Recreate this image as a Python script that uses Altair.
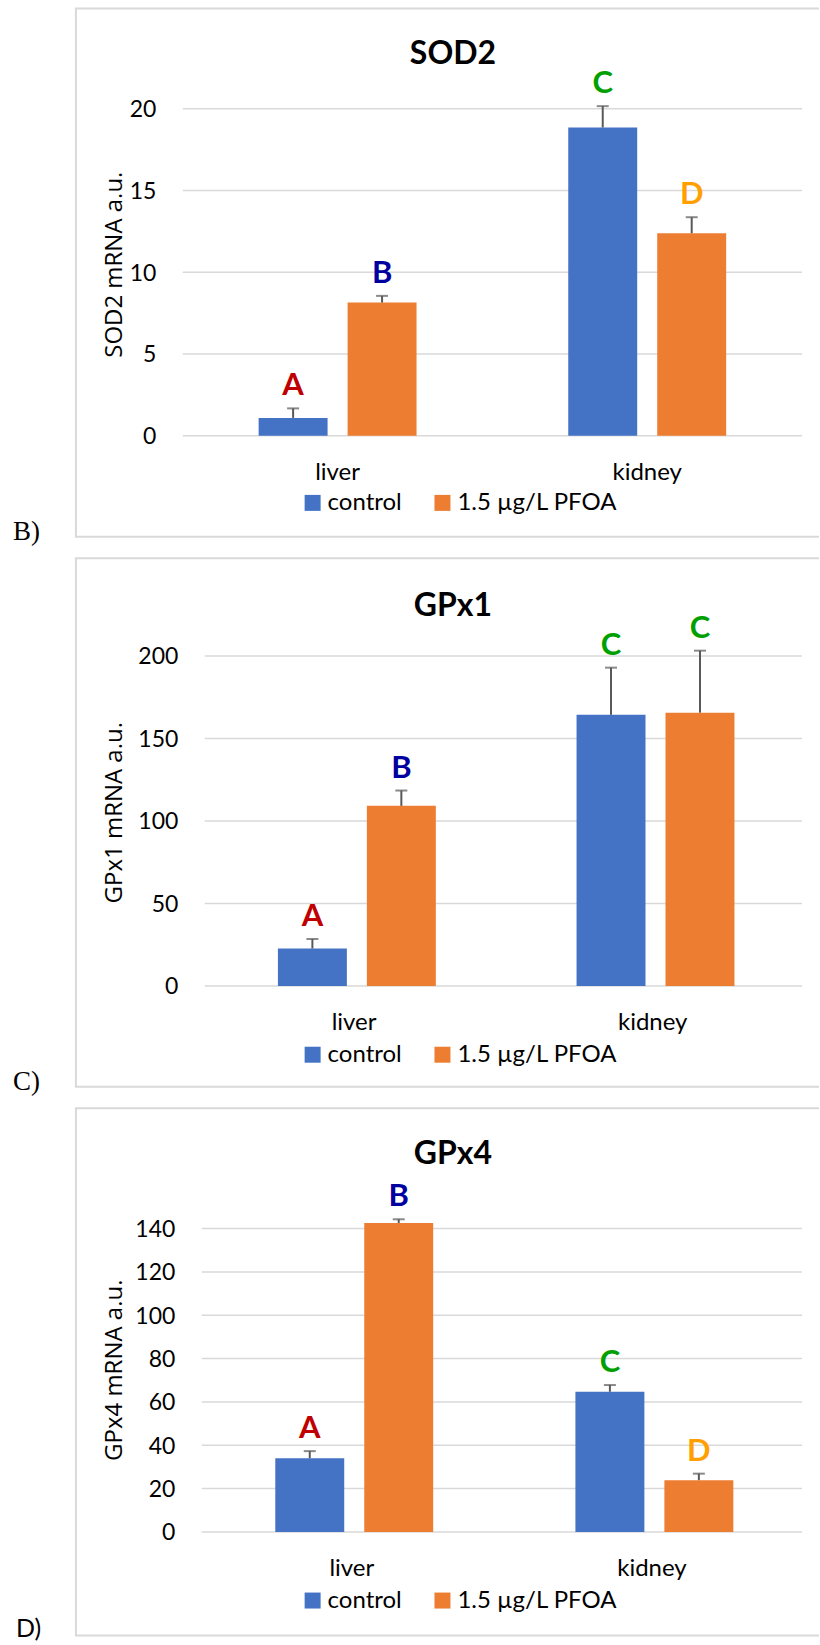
import altair as alt
import pandas as pd

organs = ["liver", "kidney"]
groups = ["control", "1.5 µg/L PFOA"]
group_colors = ["#4472C4", "#ED7D31"]

letter_names = ["A", "B", "C", "D"]
letter_colors = ["#C00000", "#0000A0", "#00A000", "#FFA000"]

# SOD2
sod2_control = [1.10, 18.85]
sod2_control_se = [0.58, 1.31]
sod2_pfoa = [8.15, 12.39]
sod2_pfoa_se = [0.41, 0.98]
sod2_letters_control = ["A", "C"]
sod2_letters_pfoa = ["B", "D"]
sod2_ticks = [0, 5, 10, 15, 20]

# GPx1
gpx1_control = [22.7, 164.4]
gpx1_control_se = [5.8, 28.6]
gpx1_pfoa = [109.2, 165.7]
gpx1_pfoa_se = [9.3, 37.6]
gpx1_letters_control = ["A", "C"]
gpx1_letters_pfoa = ["B", "C"]
gpx1_ticks = [0, 50, 100, 150, 200]

# GPx4
gpx4_control = [34.0, 64.7]
gpx4_control_se = [3.3, 3.1]
gpx4_pfoa = [142.6, 23.9]
gpx4_pfoa_se = [1.7, 3.0]
gpx4_letters_control = ["A", "C"]
gpx4_letters_pfoa = ["B", "D"]
gpx4_ticks = [0, 20, 40, 60, 80, 100, 120, 140]

W = 744
GRID = "#D9D9D9"
ERR = "#595959"


def panel(title, ytitle, plabel, plabel_font, plabel_size, plabel_x,
          ctrl, ctrl_se, pfoa, pfoa_se, lc, lp, ticks, g):
    H = g["H"]
    pl, pr, pt, pb = g["pl"], g["pr"], g["pt"], g["pb"]
    rows = []
    for i, o in enumerate(organs):
        rows.append(dict(organ=o, group=groups[0], value=ctrl[i],
                         err=ctrl[i] + ctrl_se[i], letter=lc[i]))
        rows.append(dict(organ=o, group=groups[1], value=pfoa[i],
                         err=pfoa[i] + pfoa_se[i], letter=lp[i]))
    df = pd.DataFrame(rows)
    tick_df = pd.DataFrame({"tick": ticks})
    org_df = pd.DataFrame({"organ": organs})
    dummy = pd.DataFrame({"d": [0]})

    yscale = alt.Scale(domain=[0, ticks[-1]], range=[pb, pt], nice=False, zero=True)
    xscale = alt.Scale(domain=organs, range=[pl, pr], paddingInner=0.49, paddingOuter=0.245)
    oscale = alt.Scale(domain=groups, paddingInner=0.225, paddingOuter=0)
    X = alt.X("organ:N", scale=xscale, axis=None, sort=organs)
    XO = alt.XOffset("group:N", scale=oscale, sort=groups)

    def Y(f):
        return alt.Y(f, scale=yscale, axis=None)

    frame_top = alt.Chart(dummy).mark_rule(color=GRID, strokeWidth=2).encode(
        x=alt.value(-1), x2=alt.value(W), y=alt.value(0))
    frame_left = alt.Chart(dummy).mark_rule(color=GRID, strokeWidth=2).encode(
        x=alt.value(0), y=alt.value(0), y2=alt.value(H))
    frame_bottom = alt.Chart(dummy).mark_rule(color=GRID, strokeWidth=2).encode(
        x=alt.value(-1), x2=alt.value(W), y=alt.value(H))

    grid = alt.Chart(tick_df).mark_rule(color=GRID, strokeWidth=1.5).encode(
        y=Y("tick:Q"), x=alt.value(pl), x2=alt.value(pr))

    bars = alt.Chart(df).mark_bar().encode(
        x=X, xOffset=XO, y=Y("value:Q"),
        color=alt.Color("group:N", scale=alt.Scale(domain=groups, range=group_colors),
                        sort=groups,
                        legend=alt.Legend(orient="none", legendX=g["lx"], legendY=g["ly"],
                                          direction="horizontal", title=None,
                                          symbolType="square", symbolSize=256,
                                          symbolStrokeWidth=0, labelFont="Lato",
                                          labelFontSize=24, labelColor="black",
                                          labelOffset=3, columnPadding=28, padding=0,
                                          labelLimit=400)))

    err = alt.Chart(df).mark_rule(color=ERR, strokeWidth=2).encode(
        x=X, xOffset=XO, y=Y("value:Q"), y2="err:Q")
    caps = alt.Chart(df).mark_tick(color=ERR, thickness=2, size=12, orient="horizontal").encode(
        x=X, xOffset=XO, y=Y("err:Q"))
    letters = alt.Chart(df).mark_text(font="Lato", fontWeight="bold", fontSize=31,
                                      baseline="alphabetic", dy=-13).encode(
        x=X, xOffset=XO, y=Y("err:Q"), text="letter:N",
        fill=alt.Fill("letter:N", scale=alt.Scale(domain=letter_names, range=letter_colors),
                      legend=None))

    ylabels = alt.Chart(tick_df).mark_text(align="right", baseline="alphabetic", dy=8.3,
                                           font="Lato", fontSize=23, color="black").encode(
        y=Y("tick:Q"), x=alt.value(pl - 26.5), text="tick:Q")

    xlabels = alt.Chart(org_df).mark_text(font="Lato", fontSize=24, baseline="alphabetic",
                                          color="black").encode(
        x=X, y=alt.value(g["xlab"]), text="organ:N")

    title_m = alt.Chart(dummy).mark_text(font="Lato", fontWeight="bold", fontSize=32,
                                         baseline="alphabetic", align="center",
                                         color="black").encode(
        x=alt.value(377.5), y=alt.value(g["title"]), text=alt.value(title))

    ytitle_m = alt.Chart(dummy).mark_text(font="Open Sans", fontSize=24, angle=270,
                                          align="center", baseline="alphabetic",
                                          color="black").encode(
        x=alt.value(46), y=alt.value(g["ytitle"]), text=alt.value(ytitle))

    plabel_m = alt.Chart(dummy).mark_text(font=plabel_font, fontSize=plabel_size,
                                          align="left", baseline="alphabetic",
                                          color="black").encode(
        x=alt.value(plabel_x), y=alt.value(g["plabel"]), text=alt.value(plabel))

    return alt.layer(frame_top, frame_left, frame_bottom, grid, bars, err, caps, letters,
                     ylabels, xlabels, title_m, ytitle_m, plabel_m).properties(width=W, height=H)


g1 = dict(H=529, pl=107, pr=727, pt=100.4, pb=427.9, title=55.8, ytitle=256.5,
          xlab=472, lx=225, ly=483, plabel=532.5)
g2 = dict(H=529, pl=129, pr=727, pt=97.9, pb=428.2, title=57.5, ytitle=254.7,
          xlab=472.5, lx=225, ly=485, plabel=532.5)
g3 = dict(H=528, pl=126, pr=727, pt=120.6, pb=424.3, title=55.6, ytitle=262.4,
          xlab=468.3, lx=225, ly=481, plabel=529)

p1 = panel("SOD2", "SOD2 mRNA a.u.", "B)", "Liberation Serif", 27, -63,
           sod2_control, sod2_control_se, sod2_pfoa, sod2_pfoa_se,
           sod2_letters_control, sod2_letters_pfoa, sod2_ticks, g1)
p2 = panel("GPx1", "GPx1 mRNA a.u.", "C)", "Liberation Serif", 27, -63,
           gpx1_control, gpx1_control_se, gpx1_pfoa, gpx1_pfoa_se,
           gpx1_letters_control, gpx1_letters_pfoa, gpx1_ticks, g2)
p3 = panel("GPx4", "GPx4 mRNA a.u.", "D)", "Lato", 25, -60,
           gpx4_control, gpx4_control_se, gpx4_pfoa, gpx4_pfoa_se,
           gpx4_letters_control, gpx4_letters_pfoa, gpx4_ticks, g3)

chart = alt.vconcat(p1, p2, p3, spacing=21.5, bounds="flush").resolve_scale(
    color="independent", fill="independent", x="independent", y="independent"
).configure_view(strokeWidth=0).properties(
    padding={"left": 13, "top": 6.5, "right": 0, "bottom": 0},
    background="white")

chart.save("out.html", embed_options={"renderer": "svg", "actions": False})
